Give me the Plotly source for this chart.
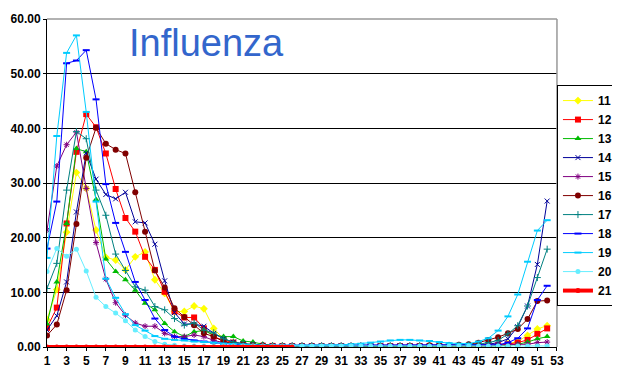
import plotly.graph_objects as go

weeks = list(range(1, 53))
x_ticks = list(range(1, 54, 2))
y_ticks = [0, 10, 20, 30, 40, 50, 60]
y_tick_labels = ["0.00", "10.00", "20.00", "30.00", "40.00", "50.00", "60.00"]

s11 = [5.0, 10.5, 21.0, 31.9, 29.0, 21.4, 16.4, 15.9, 14.1, 16.5, 17.4, 12.3, 9.8, 6.5, 6.5, 7.5, 7.0, 3.4, 1.5, 0.8,
       0.5, 0.4, 0.3, 0.2, 0.2, 0.1, 0.1, 0.1, 0.1, 0.1, 0.1, 0.1, 0.1, 0.1, 0.1, 0.1, 0.1, 0.1, 0.1, 0.1,
       0.1, 0.1, 0.1, 0.1, 0.2, 0.3, 0.4, 0.6, 1.0, 2.1, 3.3, 3.9]
s12 = [3.5, 7.2, 22.6, 35.7, 42.6, 40.2, 35.4, 28.9, 23.6, 21.1, 16.5, 14.1, 10.1, 6.5, 5.4, 5.4, 3.4, 1.9, 1.2, 0.8,
       0.5, 0.3, 0.2, 0.2, 0.1, 0.1, 0.1, 0.1, 0.1, 0.1, 0.1, 0.1, 0.1, 0.1, 0.1, 0.1, 0.1, 0.1, 0.1, 0.1,
       0.1, 0.1, 0.1, 0.1, 0.1, 0.2, 0.3, 0.5, 0.8, 1.3, 2.4, 3.4]
s13 = [4.2, 11.9, 22.6, 36.3, 35.7, 27.0, 16.1, 13.8, 12.3, 10.4, 8.0, 6.8, 4.3, 2.8, 1.9, 2.8, 3.0, 2.2, 1.9, 1.9,
       1.1, 0.9, 0.5, 0.3, 0.2, 0.1, 0.1, 0.1, 0.1, 0.1, 0.1, 0.1, 0.1, 0.1, 0.1, 0.1, 0.1, 0.1, 0.1, 0.1,
       0.1, 0.1, 0.1, 0.1, 0.1, 0.1, 0.2, 0.3, 0.5, 0.9, 1.5, 1.9]
s14 = [3.1, 5.7, 11.9, 24.7, 35.5, 30.7, 27.9, 27.1, 28.3, 22.9, 22.7, 18.8, 12.1, 6.3, 4.2, 4.2, 3.8, 2.5, 1.5, 0.9,
       0.6, 0.4, 0.3, 0.2, 0.2, 0.2, 0.2, 0.2, 0.2, 0.2, 0.2, 0.2, 0.2, 0.2, 0.2, 0.2, 0.2, 0.2, 0.2, 0.2,
       0.2, 0.2, 0.2, 0.2, 0.3, 0.5, 0.8, 1.5, 3.7, 7.5, 15.1, 26.7]
s15 = [21.4, 33.1, 37.0, 39.3, 29.0, 19.1, 12.4, 8.1, 5.8, 4.4, 3.8, 3.8, 2.5, 1.9, 1.9, 2.2, 1.9, 1.2, 0.8, 0.6,
       0.5, 0.4, 0.3, 0.3, 0.3, 0.3, 0.3, 0.3, 0.3, 0.3, 0.3, 0.3, 0.3, 0.3, 0.3, 0.3, 0.3, 0.3, 0.3, 0.3,
       0.3, 0.3, 0.3, 0.3, 0.3, 0.3, 0.4, 0.4, 0.5, 0.5, 0.8, 0.9]
s16 = [2.1, 4.1, 10.4, 22.5, 34.6, 40.1, 37.2, 36.1, 35.4, 28.3, 21.1, 14.0, 10.9, 7.1, 5.5, 4.0, 2.5, 1.9, 1.0, 0.6,
       0.4, 0.3, 0.3, 0.2, 0.2, 0.2, 0.2, 0.2, 0.2, 0.2, 0.2, 0.2, 0.2, 0.2, 0.2, 0.2, 0.2, 0.2, 0.2, 0.3,
       0.3, 0.3, 0.4, 0.5, 0.8, 1.3, 1.8, 2.5, 3.3, 5.1, 8.4, 8.5]
s17 = [10.7, 15.3, 28.7, 39.4, 38.1, 28.7, 24.1, 17.0, 14.0, 11.0, 10.4, 7.4, 6.8, 5.2, 4.0, 4.4, 3.1, 2.6, 1.5, 0.9,
       0.6, 0.4, 0.3, 0.2, 0.2, 0.2, 0.2, 0.2, 0.2, 0.2, 0.2, 0.2, 0.2, 0.2, 0.2, 0.2, 0.2, 0.2, 0.2, 0.2,
       0.2, 0.3, 0.3, 0.4, 0.5, 0.8, 1.2, 2.4, 3.9, 7.5, 12.7, 17.9]
s18 = [18.0, 26.6, 51.9, 52.4, 54.3, 45.3, 29.8, 22.7, 17.4, 11.9, 8.6, 5.2, 3.1, 1.9, 1.5, 1.2, 1.0, 0.8, 0.6, 0.5,
       0.4, 0.3, 0.3, 0.3, 0.3, 0.3, 0.3, 0.3, 0.3, 0.3, 0.3, 0.3, 0.3, 0.3, 0.3, 0.3, 0.3, 0.3, 0.3, 0.3,
       0.3, 0.3, 0.3, 0.3, 0.3, 0.3, 0.4, 0.8, 1.6, 3.4, 8.6, 11.2]
s19 = [16.3, 38.6, 53.8, 57.0, 43.0, 26.6, 12.5, 9.0, 6.0, 4.0, 3.0, 2.0, 1.5, 1.3, 1.2, 1.0, 0.9, 0.8, 0.6, 0.5,
       0.4, 0.4, 0.3, 0.3, 0.3, 0.3, 0.3, 0.3, 0.4, 0.4, 0.4, 0.5, 0.6, 0.8, 1.0, 1.2, 1.3, 1.3, 1.2, 1.1,
       0.9, 0.7, 0.6, 0.6, 1.0, 1.6, 3.0, 5.6, 9.6, 15.6, 21.3, 23.2]
s20 = [13.8, 18.0, 16.6, 17.9, 13.9, 9.1, 7.4, 6.2, 4.8, 3.1, 1.9, 1.0, 0.5, 0.3, 0.2, 0.2, 0.2, 0.2, 0.2, 0.2,
       0.2, 0.2, 0.2, 0.2, 0.2, 0.2, 0.2, 0.2, 0.2, 0.2, 0.2, 0.2, 0.2, 0.2, 0.2, 0.2, 0.2, 0.2, 0.2, 0.2,
       0.2, 0.2, 0.2, 0.2, 0.2, 0.2, 0.2, 0.2, 0.2, 0.2, 0.2, 0.2]
s21 = [0.0] * 26

series = [
    ("11", s11, "#FFFF00", "diamond", 6, 1),
    ("12", s12, "#FF0000", "square", 6, 1),
    ("13", s13, "#00BB00", "triangle-up", 6, 1),
    ("14", s14, "#000099", "x-thin-open", 5, 1),
    ("15", s15, "#800080", "asterisk-open", 5, 1),
    ("16", s16, "#800000", "circle", 6, 1),
    ("17", s17, "#008080", "cross-thin-open", 5, 1),
    ("18", s18, "#0000FF", "line-ew-open", 5, 1),
    ("19", s19, "#00CCFF", "line-ew-open", 5, 1),
    ("20", s20, "#66EEFF", "circle", 5, 1),
    ("21", s21, "#FF0000", "circle", 5, 4),
]

fig = go.Figure()
for name, vals, color, sym, size, lw in series:
    marker = dict(symbol=sym, size=size, color=color)
    if sym.endswith("-open"):
        marker["line"] = dict(color=color, width=2 if sym.startswith("line") else 1)
    fig.add_trace(go.Scatter(
        x=weeks[:len(vals)], y=vals, name=name, mode="lines+markers",
        line=dict(color=color, width=lw), marker=marker,
    ))

fig.add_annotation(text="Influenza", xref="paper", yref="paper", x=0.3125, y=0.927,
                   xanchor="center", yanchor="middle", showarrow=False,
                   font=dict(family="Liberation Sans", size=38, color="#3366CC"))

fig.add_shape(type="line", xref="paper", yref="paper", x0=0, x1=1, y0=1, y1=1,
              line=dict(color="#999999", width=1.5), layer="above")
fig.add_shape(type="line", xref="paper", yref="paper", x0=1, x1=1, y0=0, y1=1,
              line=dict(color="#999999", width=1.5), layer="above")

tick_font = dict(family="Liberation Sans", size=12, color="black", weight="bold")
fig.update_layout(
    width=612, height=376,
    margin=dict(l=39, r=61, t=11, b=37),
    paper_bgcolor="white", plot_bgcolor="white",
    showlegend=True,
    legend=dict(xref="container", yref="container", x=0.897, xanchor="left",
                y=0.795, yanchor="top", maxheight=1,
                bordercolor="black", borderwidth=1, bgcolor="white",
                font=dict(family="Liberation Sans", size=12, color="black", weight="bold"),
                itemwidth=30, tracegroupgap=0),
    xaxis=dict(range=[1, 53], tickvals=x_ticks, showgrid=False, zeroline=False,
               showline=True, linecolor="black", linewidth=1, automargin=False,
               ticks="outside", ticklen=3, tickcolor="black", tickfont=tick_font),
    yaxis=dict(range=[0, 60], tickvals=y_ticks, ticktext=y_tick_labels,
               showgrid=True, gridcolor="black", gridwidth=1, zeroline=False,
               showline=True, linecolor="black", linewidth=1, automargin=False,
               ticks="outside", ticklen=3, tickcolor="black", tickfont=tick_font),
)

fig.write_html("out.html")
